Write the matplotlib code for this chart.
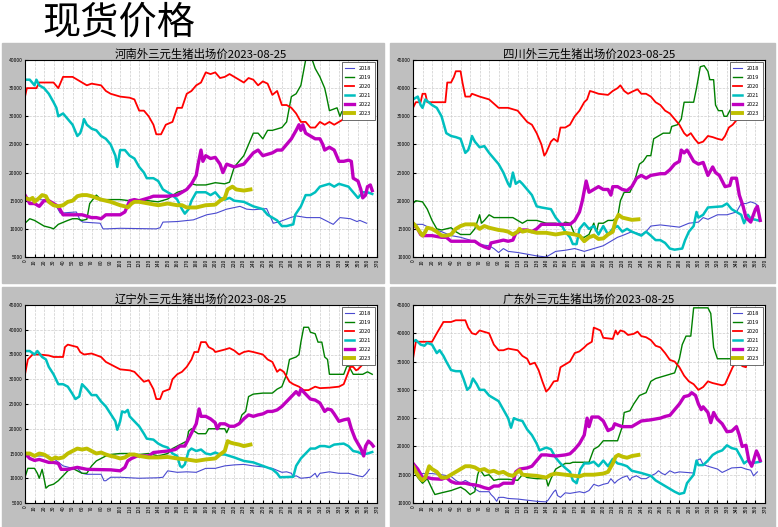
#four-panel spot price chart for hogs
import matplotlib
matplotlib.use('Agg')
import matplotlib.pyplot as plt
from matplotlib.patches import Rectangle

plt.rcParams['font.family'] = ['Noto Sans CJK SC', 'DejaVu Sans']

years = ['2018', '2019', '2020', '2021', '2022', '2023']
colors = ['#4a4ad0', '#008000', '#ff0000', '#00bfbf', '#bf00bf', '#bfbf00']
widths = [0.8, 1.0, 1.3, 1.8, 2.4, 2.8]

#河南 (day, price)
hn_2018 = [(0, 15500), (26, 15000), (33, 14000), (37, 12800), (54, 13000), (58, 11500), (61, 11200), (79, 11000), (82, 10000), (86, 10000), (100, 10100), (138, 10000), (142, 10200), (145, 11200), (160, 11300), (177, 11600), (191, 12500), (201, 12800), (212, 13500), (226, 14000), (233, 13500), (240, 13400), (254, 13600), (261, 11000), (268, 11300), (279, 12000), (285, 12300), (296, 12000), (310, 12000), (324, 10800), (331, 12000), (342, 11800), (349, 11300), (352, 11500), (359, 11000)]
hn_2019 = [(0, 11000), (5, 11800), (10, 11500), (20, 10500), (27, 10200), (30, 10000), (35, 10800), (45, 11500), (50, 11800), (55, 11800), (60, 11500), (65, 11700), (68, 14500), (75, 16000), (80, 15200), (100, 15200), (110, 15000), (130, 15000), (140, 14800), (150, 15300), (160, 16500), (170, 17000), (175, 18000), (180, 17800), (190, 17800), (200, 18200), (210, 18000), (215, 18300), (220, 21000), (230, 23000), (235, 25000), (240, 27000), (245, 27000), (250, 26000), (255, 27500), (260, 27500), (270, 28000), (275, 29000), (280, 33500), (285, 34000), (290, 35500), (295, 40000), (300, 41000), (305, 38500), (310, 37000), (315, 35000), (317, 33500), (320, 31000), (328, 31500), (331, 30000), (333, 30800)]
hn_2020 = [(0, 33500), (2, 35000), (12, 35000), (15, 36000), (30, 36000), (35, 35000), (40, 37000), (50, 37000), (55, 36500), (60, 36000), (65, 35500), (70, 35800), (80, 35500), (85, 34500), (90, 34000), (100, 33500), (110, 33300), (115, 33000), (120, 31000), (125, 31000), (130, 30000), (135, 28500), (138, 26800), (143, 26800), (148, 28500), (155, 29000), (160, 31500), (165, 31500), (170, 34000), (175, 34500), (180, 35500), (185, 36000), (190, 37800), (195, 37500), (200, 37800), (205, 36800), (210, 37000), (215, 37500), (220, 37000), (225, 36500), (230, 36000), (235, 36800), (240, 36500), (245, 35500), (250, 36200), (255, 35800), (260, 33800), (265, 34500), (270, 32000), (275, 32000), (280, 31500), (285, 30500), (290, 29000), (295, 29000), (300, 28000), (305, 28000), (310, 29000), (315, 28500), (320, 29000), (325, 28500), (330, 29000), (335, 29500), (338, 31000)]
hn_2021 = [(0, 36500), (5, 36500), (10, 35500), (12, 36500), (15, 35500), (20, 35000), (25, 34000), (30, 32500), (33, 31500), (35, 30000), (40, 30500), (45, 29500), (50, 28500), (55, 26500), (58, 27000), (60, 28000), (62, 29500), (65, 28500), (70, 27800), (75, 27500), (80, 26500), (85, 26000), (90, 25000), (95, 23000), (97, 21000), (100, 24000), (105, 24000), (110, 23000), (115, 22500), (120, 21000), (125, 20000), (128, 19000), (135, 19000), (140, 18500), (145, 17000), (150, 16500), (155, 16000), (160, 15200), (165, 13500), (168, 12700), (172, 13500), (175, 15000), (180, 16500), (190, 16500), (195, 16000), (200, 16500), (205, 15500), (210, 15200), (215, 15500), (220, 15000), (230, 14800), (240, 14000), (250, 13500), (255, 12500), (260, 12000), (265, 11500), (270, 10500), (275, 10500), (282, 10800), (284, 12500), (290, 14000), (295, 16000), (300, 16000), (305, 16500), (310, 17500), (320, 18000), (325, 17500), (330, 18000), (340, 17500), (345, 16500), (350, 15500), (355, 16500), (360, 16500), (365, 16200)]
hn_2022 = [(0, 16000), (5, 14500), (10, 14500), (15, 14000), (20, 15000), (25, 15000), (30, 14500), (35, 14000), (40, 12500), (60, 12500), (70, 12000), (75, 12000), (80, 11800), (85, 12500), (100, 12500), (105, 13000), (110, 15000), (115, 15200), (120, 15000), (130, 15500), (135, 15800), (150, 15800), (160, 16000), (165, 16500), (170, 17000), (175, 18000), (180, 19500), (182, 21500), (185, 24000), (187, 22000), (190, 23000), (195, 22500), (200, 22700), (205, 21500), (208, 20000), (212, 21500), (220, 21000), (230, 21500), (235, 22500), (240, 23500), (245, 24000), (250, 23000), (260, 23500), (265, 24000), (270, 24000), (275, 25000), (280, 26000), (285, 27500), (288, 28500), (290, 27500), (292, 28500), (295, 27000), (300, 26500), (305, 26000), (310, 26000), (313, 25000), (315, 24000), (320, 24500), (325, 24000), (330, 22000), (335, 22000), (340, 22200), (343, 22000), (345, 19000), (350, 18500), (353, 17000), (355, 15500), (358, 16000), (360, 17500), (363, 17800), (365, 16800)]
hn_2023 = [(0, 15500), (5, 15200), (8, 15500), (10, 14800), (15, 15500), (18, 16000), (22, 15800), (25, 14800), (30, 14200), (35, 14000), (40, 14200), (45, 14800), (50, 15000), (55, 15800), (60, 16000), (65, 16000), (70, 15800), (75, 15500), (80, 15200), (85, 15000), (90, 14800), (95, 14500), (100, 14200), (105, 14000), (108, 13800), (112, 14500), (115, 14800), (120, 14800), (130, 14500), (140, 14200), (150, 14500), (160, 14200), (165, 14200), (170, 13800), (180, 13800), (190, 14200), (200, 14300), (205, 15000), (210, 15500), (213, 17000), (218, 17500), (222, 17000), (230, 16800), (237, 17000)]

#四川
sc_2018 = [(0, 15800), (10, 15800), (20, 15000), (30, 14500), (40, 13800), (50, 13500), (60, 13000), (70, 12200), (80, 12000), (85, 11500), (90, 10800), (95, 11500), (100, 11000), (110, 10800), (120, 10500), (130, 10200), (140, 10000), (145, 10500), (150, 11000), (160, 11200), (170, 11500), (180, 11000), (190, 11500), (200, 12000), (210, 13000), (215, 13500), (220, 13800), (230, 14500), (240, 14000), (245, 14500), (250, 15500), (260, 15700), (270, 15500), (280, 15300), (290, 16000), (300, 16200), (305, 17000), (310, 16700), (320, 17500), (330, 17500), (340, 18000), (345, 19500), (350, 19500), (355, 19800), (360, 19500), (363, 19000), (365, 16500)]
sc_2019 = [(0, 19500), (3, 20000), (10, 19800), (15, 18500), (20, 16500), (25, 15000), (30, 14800), (40, 15200), (45, 14500), (50, 14000), (60, 14000), (65, 15000), (68, 16500), (70, 17500), (72, 16000), (75, 16500), (80, 17500), (85, 17000), (105, 17000), (110, 16500), (115, 16000), (120, 16500), (130, 16500), (140, 16000), (150, 16000), (155, 15500), (160, 16200), (165, 16000), (170, 14000), (175, 13500), (180, 13500), (185, 14000), (190, 16000), (193, 14500), (195, 16000), (200, 16000), (205, 16500), (210, 16500), (215, 17000), (218, 20000), (222, 21500), (228, 21500), (232, 23000), (238, 26500), (242, 27000), (246, 28000), (250, 28000), (253, 31000), (258, 31500), (263, 32000), (270, 32000), (272, 33200), (278, 33500), (282, 34500), (285, 37500), (295, 37500), (298, 40000), (302, 43800), (306, 44000), (310, 43000), (312, 41500), (316, 41500), (318, 37000), (321, 36000), (325, 36000), (327, 35000), (330, 35000), (333, 36000), (336, 36800), (338, 37000)]
sc_2020 = [(0, 36500), (3, 37500), (8, 37500), (10, 39000), (13, 39000), (15, 37500), (34, 37500), (36, 41000), (40, 41000), (43, 42000), (45, 43000), (50, 43000), (52, 41000), (55, 38500), (60, 38500), (62, 39000), (70, 38500), (80, 38000), (90, 36500), (100, 36500), (110, 36000), (115, 35000), (120, 34000), (125, 33500), (130, 32000), (135, 30000), (138, 28000), (140, 28500), (145, 30500), (148, 31000), (152, 30500), (155, 33000), (160, 33000), (165, 33500), (170, 35000), (175, 36000), (180, 37500), (183, 38000), (186, 39500), (190, 39300), (195, 39000), (205, 38800), (210, 39500), (215, 40000), (218, 40500), (222, 39500), (226, 39000), (232, 39500), (236, 39800), (240, 39000), (245, 39000), (250, 38500), (255, 37500), (260, 37000), (265, 36000), (270, 35500), (275, 34500), (280, 33500), (285, 32000), (288, 31500), (292, 32000), (296, 31000), (300, 30200), (305, 30500), (310, 31500), (315, 31300), (320, 31000), (325, 30800), (328, 31500), (332, 33000), (336, 33500), (340, 34300), (345, 34500), (348, 35000), (352, 35500), (355, 35800), (360, 35500), (363, 36000)]
sc_2021 = [(0, 38000), (5, 38500), (8, 37000), (10, 36500), (13, 38000), (20, 37000), (25, 36500), (30, 35000), (35, 32000), (40, 31500), (45, 31300), (50, 31000), (52, 30000), (55, 28500), (58, 29000), (60, 30000), (62, 31500), (65, 30500), (70, 29500), (75, 29700), (80, 28500), (85, 27500), (90, 26500), (95, 25000), (100, 23000), (102, 22500), (105, 25000), (108, 23000), (112, 23500), (115, 23000), (120, 22000), (125, 21000), (130, 19000), (135, 18800), (145, 18500), (150, 17000), (155, 16000), (160, 14500), (165, 13500), (168, 12300), (172, 12300), (175, 15000), (180, 16000), (185, 15000), (190, 15500), (195, 14000), (200, 15500), (205, 14000), (210, 15000), (215, 15500), (220, 14500), (225, 15000), (230, 14500), (240, 13800), (245, 14500), (250, 13800), (255, 13000), (260, 13000), (265, 12500), (270, 11500), (275, 11300), (283, 11500), (286, 13000), (290, 14500), (295, 15500), (298, 18000), (300, 17000), (305, 17500), (310, 18800), (325, 19000), (330, 19500), (335, 18500), (340, 18000), (345, 17500), (348, 16000), (352, 17500), (355, 16800), (363, 16500)]
sc_2022 = [(0, 15800), (5, 15000), (8, 14000), (10, 13800), (20, 13800), (30, 13500), (35, 13500), (40, 12800), (65, 12800), (70, 12200), (75, 11800), (80, 11500), (82, 12500), (90, 12800), (95, 13000), (100, 12800), (105, 13000), (108, 14200), (115, 14800), (120, 14800), (125, 14500), (130, 15000), (135, 15800), (165, 15800), (170, 16500), (175, 18000), (178, 20000), (182, 23500), (185, 21500), (190, 22000), (195, 22500), (200, 22000), (205, 22000), (208, 21000), (210, 22500), (215, 22500), (220, 22000), (225, 21800), (230, 22500), (235, 24000), (240, 24500), (245, 24000), (250, 24500), (260, 24800), (265, 24800), (270, 25500), (275, 26500), (280, 27000), (282, 29000), (285, 28500), (288, 29000), (290, 28500), (295, 27000), (300, 26500), (305, 26800), (310, 24500), (315, 26000), (318, 25000), (322, 24500), (325, 23500), (328, 22500), (333, 22700), (335, 24000), (340, 24000), (343, 21000), (347, 19000), (350, 17000), (355, 16200), (360, 18500), (362, 19000), (365, 16500)]
sc_2023 = [(0, 16000), (3, 15500), (7, 14500), (10, 13800), (13, 14500), (15, 15200), (20, 15000), (25, 14500), (30, 13800), (35, 13800), (40, 14000), (45, 15000), (50, 15500), (55, 15800), (65, 15800), (70, 15000), (75, 15500), (80, 15200), (85, 15000), (90, 14800), (95, 14700), (100, 14500), (105, 14000), (110, 14500), (112, 15000), (115, 14500), (120, 14700), (130, 14300), (140, 14300), (150, 14000), (160, 14300), (170, 14000), (175, 13800), (180, 12800), (185, 13500), (190, 13800), (195, 13200), (200, 13300), (205, 14000), (210, 14500), (213, 16500), (216, 17500), (220, 17000), (225, 16800), (230, 16600), (237, 16700)]

#辽宁
ln_2018 = [(0, 14800), (10, 14500), (20, 14500), (30, 14000), (40, 12500), (50, 12000), (55, 12000), (60, 11000), (65, 10800), (80, 10800), (83, 9500), (85, 9500), (90, 10200), (100, 10200), (120, 10000), (140, 10100), (145, 10200), (150, 11500), (160, 11200), (170, 11300), (180, 11200), (190, 12000), (200, 12000), (210, 12500), (220, 12700), (230, 12800), (240, 12500), (250, 12300), (260, 12000), (270, 11200), (275, 11300), (280, 11000), (282, 10300), (285, 10500), (290, 10000), (300, 10200), (305, 11000), (307, 10200), (310, 11000), (320, 11300), (330, 11000), (340, 11000), (350, 10500), (355, 10300), (358, 10800), (362, 11800)]
ln_2019 = [(0, 10200), (3, 12000), (10, 12000), (13, 11000), (15, 10000), (18, 11800), (20, 10000), (22, 8000), (25, 8500), (30, 8800), (35, 9500), (40, 10500), (45, 11500), (50, 12000), (55, 11500), (60, 11000), (65, 11000), (70, 12500), (75, 13500), (80, 14000), (85, 14500), (90, 14800), (100, 15000), (110, 15000), (120, 14800), (130, 15000), (140, 14500), (150, 15000), (155, 16000), (160, 16500), (165, 17000), (170, 17500), (172, 19500), (175, 20000), (178, 19500), (182, 19000), (190, 19000), (193, 20000), (210, 20000), (212, 19200), (215, 20500), (220, 20500), (225, 21000), (228, 22800), (232, 23500), (235, 26500), (240, 27000), (250, 27200), (260, 27200), (265, 28000), (270, 28500), (275, 31000), (278, 34000), (285, 34500), (288, 35000), (290, 37500), (293, 40500), (298, 40500), (300, 39500), (305, 39200), (308, 37500), (312, 37500), (315, 34500), (318, 34000), (320, 31000), (335, 31000), (338, 32500), (340, 32800), (345, 31000), (355, 31000), (360, 31500), (365, 31000)]
ln_2020 = [(0, 31000), (3, 34000), (8, 35000), (15, 35000), (25, 34800), (30, 34500), (40, 34500), (42, 36500), (45, 37000), (55, 36500), (58, 35500), (62, 35000), (70, 35200), (80, 34500), (85, 33500), (90, 33000), (100, 32000), (110, 31800), (115, 31500), (120, 30500), (125, 29500), (130, 29800), (135, 28000), (138, 26000), (142, 26000), (145, 27500), (152, 28000), (155, 30000), (160, 31000), (165, 31500), (170, 32500), (175, 34000), (178, 35500), (182, 35500), (185, 37500), (190, 37500), (193, 36500), (198, 36000), (200, 35500), (210, 36000), (215, 36300), (220, 35800), (225, 35000), (230, 35500), (235, 35700), (240, 35500), (250, 35000), (255, 34000), (260, 33500), (265, 31500), (268, 32000), (272, 31500), (278, 29500), (282, 29000), (288, 28500), (293, 27800), (298, 27800), (305, 28500), (310, 28200), (320, 28300), (330, 28500), (335, 29000), (338, 30500), (342, 32500), (345, 32500), (348, 31800), (350, 32000), (355, 33000), (360, 33300), (362, 34000), (365, 34500)]
ln_2021 = [(0, 35700), (5, 35700), (10, 35000), (13, 35700), (18, 34500), (22, 34000), (25, 32500), (30, 31000), (35, 29000), (40, 29000), (45, 28500), (50, 27000), (53, 26000), (57, 26500), (60, 29000), (65, 28000), (70, 26800), (75, 26800), (80, 25500), (85, 24500), (90, 23000), (95, 21500), (97, 19800), (100, 21500), (102, 23500), (105, 23300), (108, 23800), (110, 22500), (115, 21500), (120, 20500), (125, 19000), (128, 18000), (135, 17800), (140, 17000), (145, 16500), (150, 16200), (155, 15000), (160, 14500), (163, 12500), (165, 12200), (168, 12800), (172, 15500), (175, 16000), (180, 15500), (185, 15800), (190, 15000), (195, 14800), (200, 15200), (205, 14800), (210, 14800), (220, 14200), (230, 13500), (240, 13200), (250, 12500), (260, 11800), (265, 11000), (268, 10200), (282, 10300), (285, 12500), (290, 14000), (295, 15000), (300, 16000), (305, 16000), (310, 16500), (315, 16500), (320, 16300), (325, 16800), (335, 17000), (340, 16500), (345, 15500), (350, 15300), (355, 14800), (360, 15000), (365, 15300)]
ln_2022 = [(0, 15000), (5, 14000), (10, 13600), (15, 13800), (20, 13500), (25, 13200), (30, 13200), (35, 13000), (38, 11800), (45, 11800), (50, 12000), (55, 12200), (60, 12000), (65, 11800), (90, 11700), (100, 11500), (105, 12200), (108, 13500), (112, 14000), (118, 14500), (130, 14500), (135, 15200), (140, 15300), (150, 15500), (158, 15800), (163, 16500), (168, 16500), (172, 18000), (176, 19500), (180, 21000), (183, 24000), (185, 22500), (190, 22500), (195, 22000), (200, 21200), (202, 20000), (205, 21000), (210, 21000), (215, 20500), (220, 20500), (225, 21000), (230, 22000), (235, 22800), (240, 22500), (245, 22800), (250, 23000), (255, 23500), (260, 23500), (265, 23800), (270, 24500), (275, 25500), (280, 26500), (285, 27500), (288, 26800), (290, 28000), (295, 27000), (300, 26000), (305, 25800), (310, 25200), (315, 23500), (318, 24000), (322, 23800), (325, 23000), (330, 21500), (335, 21800), (340, 22000), (343, 20000), (347, 18000), (350, 17000), (353, 16000), (356, 14500), (358, 16500), (361, 17500), (364, 17000), (366, 16500)]
ln_2023 = [(0, 15000), (5, 15000), (10, 14500), (15, 15000), (20, 14800), (25, 14200), (28, 13800), (32, 14200), (35, 14000), (40, 14200), (45, 15000), (50, 15500), (55, 16000), (60, 15800), (65, 16000), (70, 15500), (75, 15000), (80, 15200), (85, 14800), (90, 14500), (95, 14300), (100, 14000), (105, 14200), (110, 14800), (115, 14800), (120, 14500), (130, 14200), (140, 14200), (150, 14300), (160, 14000), (170, 13800), (180, 13500), (190, 13800), (200, 14000), (205, 14800), (210, 15500), (213, 17500), (216, 17200), (220, 17000), (225, 16800), (230, 16500), (237, 16800)]

#广东
gd_2018 = [(0, 15500), (10, 15200), (20, 15200), (30, 15000), (40, 14700), (45, 14000), (50, 13500), (55, 14000), (60, 13500), (65, 12500), (70, 12000), (80, 12000), (82, 11500), (85, 11000), (88, 10300), (90, 11000), (95, 11000), (100, 10800), (110, 10700), (120, 10500), (130, 10300), (140, 10200), (142, 10500), (148, 12000), (150, 12300), (152, 11300), (155, 11000), (160, 11800), (165, 11700), (175, 12000), (180, 11800), (185, 12200), (190, 13300), (195, 13000), (200, 13300), (205, 13500), (208, 14300), (212, 13500), (215, 14000), (220, 14500), (225, 14800), (228, 14000), (230, 14500), (235, 14800), (240, 14300), (245, 14300), (250, 14800), (255, 15200), (258, 15700), (262, 15200), (265, 15000), (270, 15700), (275, 15300), (280, 15500), (295, 15300), (298, 17500), (302, 17800), (305, 16800), (310, 16500), (320, 16000), (325, 15400), (330, 15800), (335, 16200), (345, 16300), (350, 16000), (355, 15800), (358, 14800), (362, 15500)]
gd_2019 = [(0, 16000), (5, 14500), (10, 13500), (15, 14300), (20, 12500), (23, 11500), (30, 11800), (40, 12200), (45, 12500), (50, 12800), (55, 12300), (60, 11500), (65, 12000), (68, 15000), (70, 16000), (75, 14800), (80, 15000), (85, 14000), (90, 14200), (100, 14200), (110, 14000), (115, 15000), (120, 14500), (130, 14300), (140, 14300), (142, 13000), (145, 14300), (150, 16000), (155, 16500), (160, 17000), (165, 17000), (168, 17200), (185, 17200), (190, 19500), (195, 20000), (200, 21000), (215, 21000), (220, 23500), (222, 26000), (228, 26300), (232, 27500), (238, 29000), (245, 29500), (250, 31500), (255, 32000), (275, 33000), (280, 35500), (283, 38000), (287, 39500), (292, 39500), (295, 44500), (310, 44500), (313, 43500), (316, 37500), (320, 35500), (335, 35500), (340, 36000), (345, 36000), (355, 35800), (365, 35800)]
gd_2020 = [(0, 35500), (3, 38500), (20, 38500), (25, 40000), (32, 42000), (40, 42000), (45, 42300), (55, 42300), (58, 41000), (62, 40000), (66, 39800), (70, 40500), (80, 40000), (85, 38000), (90, 37000), (95, 37000), (100, 37300), (110, 37000), (115, 36000), (120, 35500), (123, 34500), (128, 34800), (132, 33500), (136, 31500), (140, 29700), (143, 30200), (148, 31500), (152, 31600), (155, 34000), (160, 34500), (165, 35000), (170, 36500), (175, 36800), (180, 37500), (183, 38000), (188, 38500), (190, 41000), (193, 40800), (197, 40500), (200, 39200), (210, 39000), (213, 40500), (215, 39800), (218, 40500), (222, 40300), (226, 39700), (232, 39900), (236, 40300), (240, 39500), (245, 39300), (250, 38800), (255, 37800), (260, 37500), (265, 36500), (270, 35300), (275, 35000), (280, 34000), (285, 32500), (290, 31500), (295, 31000), (300, 30000), (305, 30500), (310, 31500), (315, 31200), (320, 31000), (325, 30800), (328, 31000), (332, 32500), (336, 34000), (340, 35000), (343, 35500), (346, 34200), (350, 34000), (352, 36000), (355, 35500), (358, 35200), (362, 35500), (365, 35800)]
gd_2021 = [(0, 38500), (3, 38800), (8, 38000), (12, 37800), (15, 38300), (20, 38000), (25, 36500), (28, 37000), (32, 36000), (35, 35000), (40, 33500), (45, 33300), (50, 33300), (53, 32000), (57, 30000), (60, 30500), (63, 32000), (67, 31000), (70, 30000), (75, 30000), (80, 29000), (85, 28500), (90, 28000), (95, 26500), (100, 25000), (103, 23300), (106, 25000), (110, 24700), (115, 24500), (120, 23000), (125, 22000), (130, 20500), (133, 19300), (140, 19800), (145, 19500), (150, 18000), (155, 17000), (160, 16200), (165, 15500), (168, 14000), (172, 13500), (176, 16000), (180, 17000), (185, 17000), (190, 17300), (195, 16500), (200, 17500), (205, 16500), (210, 17800), (215, 17000), (220, 16800), (225, 16500), (230, 15700), (240, 15300), (250, 14800), (255, 14000), (260, 13500), (270, 12500), (275, 12000), (280, 11600), (285, 11800), (288, 13500), (295, 15000), (298, 17500), (300, 16700), (305, 16700), (310, 17500), (315, 18500), (320, 19000), (325, 19300), (330, 20200), (335, 19700), (340, 19500), (345, 18000), (348, 17000), (352, 17500), (355, 17000), (365, 17300)]
gd_2022 = [(0, 17000), (5, 16000), (10, 14500), (15, 14500), (20, 14300), (30, 14200), (35, 14500), (40, 13800), (45, 13500), (55, 13500), (60, 13300), (65, 13200), (70, 13000), (75, 12700), (80, 12500), (85, 13000), (90, 13000), (95, 13500), (105, 13500), (108, 15500), (112, 16000), (120, 16200), (125, 16500), (130, 17500), (135, 18500), (140, 18500), (150, 18300), (160, 18500), (165, 18700), (170, 19500), (175, 20500), (180, 22000), (183, 25000), (185, 23500), (188, 25200), (195, 25200), (200, 24500), (205, 22800), (210, 23200), (212, 24000), (215, 23800), (220, 23500), (230, 23500), (235, 24000), (240, 24500), (250, 24700), (260, 25000), (265, 25300), (270, 25500), (275, 26500), (280, 27500), (285, 28800), (290, 29000), (293, 29500), (297, 29000), (300, 27500), (303, 26500), (305, 27000), (310, 26000), (313, 24200), (316, 26000), (320, 24800), (325, 24000), (330, 22600), (335, 22700), (340, 23500), (343, 22000), (346, 20000), (350, 20200), (353, 17500), (356, 16500), (358, 17500), (361, 19200), (363, 18500), (365, 17500)]
gd_2023 = [(0, 16500), (3, 15500), (7, 14500), (10, 14000), (13, 14500), (17, 16500), (20, 16000), (25, 15500), (30, 14500), (35, 14500), (40, 15000), (45, 15500), (50, 16000), (55, 16500), (60, 16500), (65, 16300), (70, 15800), (75, 16000), (80, 15500), (85, 15700), (90, 15300), (95, 15500), (100, 15000), (105, 14800), (110, 15500), (112, 15800), (115, 15000), (130, 14800), (140, 14500), (145, 15000), (150, 15200), (160, 15000), (170, 14800), (175, 14700), (180, 15000), (190, 15000), (200, 15200), (205, 15500), (210, 17000), (213, 18200), (216, 18500), (220, 18200), (225, 18000), (230, 18300), (237, 18500)]

titles = ['河南外三元生猪出场价2023-08-25', '四川外三元生猪出场价2023-08-25',
          '辽宁外三元生猪出场价2023-08-25', '广东外三元生猪出场价2023-08-25']
ylims = [(5000, 40000), (10000, 45000), (5000, 45000), (10000, 45000)]
series = [[hn_2018, hn_2019, hn_2020, hn_2021, hn_2022, hn_2023],
          [sc_2018, sc_2019, sc_2020, sc_2021, sc_2022, sc_2023],
          [ln_2018, ln_2019, ln_2020, ln_2021, ln_2022, ln_2023],
          [gd_2018, gd_2019, gd_2020, gd_2021, gd_2022, gd_2023]]

W, H = 778, 527
fig = plt.figure(figsize=(W / 100, H / 100), dpi=100)

#pixel boxes: grey panel and axes (left, top, right, bottom)
panels = [(2, 43, 384, 283), (390, 43, 775, 283), (2, 287, 384, 527), (390, 287, 775, 527)]
axboxes = [(25, 60, 377, 257), (413, 60, 765, 257), (25, 305, 377, 503), (413, 305, 765, 503)]

fig.text(42 / W, 1 - 23 / H, '现货价格', fontsize=27.5, va='center', ha='left')

for i in range(4):
    l, t, r, b = panels[i]
    fig.patches.append(Rectangle((l / W, 1 - b / H), (r - l) / W, (b - t) / H,
                                 transform=fig.transFigure, color='#bfbfbf', zorder=-10))
    l, t, r, b = axboxes[i]
    ax = fig.add_axes([l / W, 1 - b / H, (r - l) / W, (b - t) / H])
    for j in range(6):
        xs = [p[0] for p in series[i][j]]
        ys = [p[1] for p in series[i][j]]
        ax.plot(xs, ys, color=colors[j], lw=widths[j], label=years[j])
    ax.set_xlim(0, 370)
    ax.set_ylim(*ylims[i])
    ax.set_xticks(range(0, 371, 10))
    ax.set_yticks(range(ylims[i][0], ylims[i][1] + 1, 5000))
    ax.tick_params(axis='x', labelsize=3.6, labelrotation=90, direction='in', length=2, pad=1.5)
    ax.tick_params(axis='y', labelsize=3.6, direction='in', length=2, pad=1.5)
    ax.grid(True, color='#cccccc', linestyle='--', linewidth=0.5)
    ax.set_title(titles[i], fontsize=8.2, pad=1.5)
    for s in ax.spines.values():
        s.set_linewidth(0.8)
    leg = ax.legend(loc='upper right', fontsize=4, handlelength=1.5, handletextpad=1.0,
                    labelspacing=0.75, fancybox=False, framealpha=1,
                    borderaxespad=0.4, borderpad=0.6)
    leg.get_frame().set_edgecolor('#555555')
    leg.get_frame().set_linewidth(0.6)

plt.savefig('out.png', dpi=100)
